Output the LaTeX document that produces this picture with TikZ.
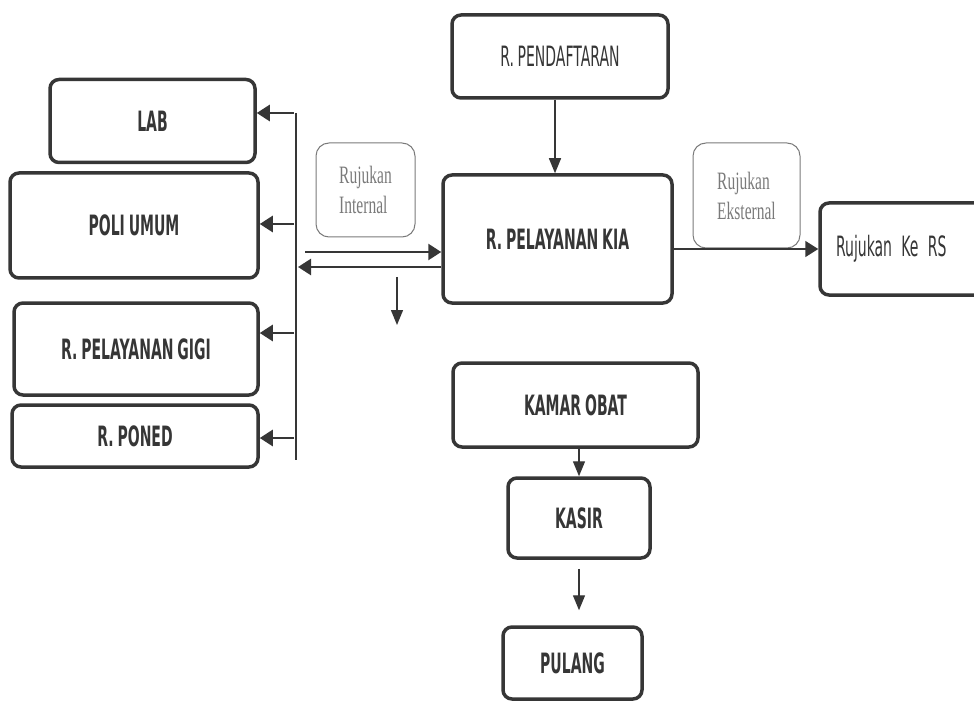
\documentclass[tikz,border=0pt]{standalone}
\usepackage{fontspec}
\usepackage{xcolor}
\usepackage{tikz}
\usetikzlibrary{positioning,arrows.meta}
\newfontfamily\boxfont{DejaVu Sans}[FakeStretch=0.5,WordSpace=0.8]
\newfontfamily\notefont{Liberation Serif}[FakeStretch=0.62]
\definecolor{ink}{HTML}{363636}
\definecolor{soft}{HTML}{7A7A7A}
\tikzset{
  room/.style={rectangle, draw=ink, line width=3.5pt, fill=white, rounded corners=9pt,
               inner sep=0pt, align=center, text=ink, font=\boxfont\bfseries\fontsize{28}{32}\selectfont},
  roomreg/.style={room, font=\boxfont\fontsize{28}{32}\selectfont},
  note/.style={rectangle, draw=soft, line width=1pt, rounded corners=13pt, inner sep=0pt,
               align=left, text=soft, font=\notefont\fontsize{25}{30}\selectfont},
  arr/.style={-{Triangle[length=13pt,width=16pt]}, line width=2.6pt, draw=ink},
  tarr/.style={-{Triangle[length=15pt,width=12pt]}, line width=1.4pt, draw=ink},
}
\begin{document}
\begin{tikzpicture}[x=1pt,y=-1pt]
      \useasboundingbox (0,0) rectangle (974,703);
      \node[room, minimum width=205pt, minimum height=83pt] (lab) at (152.5,121) {LAB};
      \node[room, minimum width=248pt, minimum height=105pt] (poli) at (134,225.5) {POLI UMUM};
      \node[room, minimum width=244pt, minimum height=92pt] (gigi) at (136,349) {R. PELAYANAN GIGI};
      \node[room, minimum width=246pt, minimum height=62pt] (poned) at (135,436) {R. PONED};
      \node[roomreg, minimum width=216pt, minimum height=83pt] (pend) at (560,56.5) {R. PENDAFTARAN};
      \node[room, minimum width=229pt, minimum height=128pt] (kia) at (557.5,239) {R. PELAYANAN KIA};
      \node[roomreg, minimum height=92pt, text width=138pt, inner xsep=16pt, align=left] (rs) at (905,249) {Rujukan Ke RS};
      \node[note, minimum width=99pt, minimum height=94pt] (intl) at (365.5,190) {Rujukan\\Internal};
      \node[note, minimum width=107pt, minimum height=105pt] (extl) at (746.5,195.5) {Rujukan\\Eksternal};
      \node[room, minimum width=245pt, minimum height=84pt] (obat) at (575.5,405) {KAMAR OBAT};
      \node[room, minimum width=142pt, minimum height=80pt] (kasir) at (579,518) {KASIR};
      \node[room, minimum width=139pt, minimum height=72pt] (pulang) at (572.5,663) {PULANG};
      \coordinate (ttop) at (296,113);
      \coordinate (tbot) at (296,460);
      \draw[ink, line width=1.2pt] (ttop) -- (tbot);
      \foreach \y/\n in {113/lab,224/poli,333/gigi,438/poned}
        {\coordinate (t\n) at (294,\y); \draw[arr] (t\n) -- (t\n -| \n.east);}
      \coordinate (rin) at (305,252);
      \coordinate (rout) at (298,267);
      \draw[arr] (rin) -- (rin -| kia.west);
      \draw[arr] (rout -| kia.west) -- (rout);
      \coordinate (dtop) at (397,277);
      \coordinate (dbot) at (397,325);
      \draw[tarr] (dtop) -- (dbot);
      \draw[tarr] (pend.south -| 555,0) -- (kia.north -| 555,0);
      \draw[arr, line width=1.6pt] (rs.west -| kia.east) -- (rs.west);
      \draw[tarr] (obat.south -| kasir.north) -- (kasir.north);
      \path (kasir.south) ++(0,9) coordinate (kbot);
      \path (pulang.north) ++(0,-15) coordinate (ptop);
      \draw[tarr] (kbot) -- (ptop -| kbot);
    \end{tikzpicture}
\end{document}
